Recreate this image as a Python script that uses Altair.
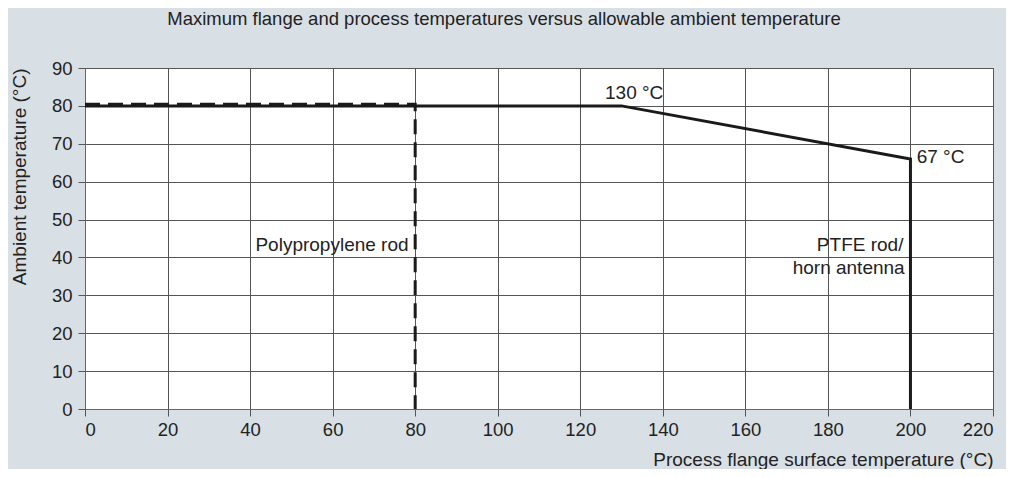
import altair as alt
import pandas as pd

ptfe_x = [0, 130, 200, 200]
ptfe_y = [80, 80, 66, 0]
pp_x = [0, 80, 80]
pp_y = [80.4, 80.4, 0]

label_text = ["130 °C", "67 °C"]
label_x = [126, 201.5]
label_y = [83.4, 66.4]

rlabel_text = ["Polypropylene rod", "PTFE rod/", "horn antenna"]
rlabel_x = [78.4, 198.3, 198.6]
rlabel_y = [43.3, 43.3, 37.2]

x_ticks = list(range(0, 221, 20))
y_ticks = list(range(0, 91, 10))

ptfe = pd.DataFrame({"x": ptfe_x, "y": ptfe_y, "o": range(len(ptfe_x))})
pp = pd.DataFrame({"x": pp_x, "y": pp_y, "o": range(len(pp_x))})
lab = pd.DataFrame({"x": label_x, "y": label_y, "t": label_text})
rlab = pd.DataFrame({"x": rlabel_x, "y": rlabel_y, "t": rlabel_text})

xs = alt.Scale(domain=[0, 220], nice=False, zero=False)
ys = alt.Scale(domain=[0, 90], nice=False, zero=False)

FS = 18.5
common = dict(titleFontSize=19, titleFontWeight="normal",
              labelFontSize=FS, labelColor="#222", titleColor="#222",
              labelFont="Liberation Sans", titleFont="Liberation Sans",
              grid=True, gridColor="#555", gridOpacity=1, tickColor="#555",
              domainColor="#666", tickSize=7)
xax = alt.Axis(values=x_ticks, title="Process flange surface temperature (°C)",
               titleAnchor="end", titlePadding=12, labelPadding=4, **common)
yax = alt.Axis(values=y_ticks, title="Ambient temperature (°C)",
               titleAnchor="end", titlePadding=22, labelPadding=6, **common)

X = alt.X("x:Q", scale=xs, axis=xax)
Y = alt.Y("y:Q", scale=ys, axis=yax)

l1 = alt.Chart(ptfe).mark_line(color="#1a1a1a", strokeWidth=3, strokeJoin="miter", strokeCap="butt").encode(
    x=X, y=Y, order="o:Q")
l2 = alt.Chart(pp).mark_line(color="#1a1a1a", strokeWidth=3, strokeDash=[15, 8], strokeCap="butt").encode(
    x=X, y=Y, order="o:Q")
t1 = alt.Chart(lab).mark_text(align="left", baseline="middle", fontSize=19, color="#222",
                              font="Liberation Sans").encode(x=X, y=Y, text="t:N")
t2 = alt.Chart(rlab).mark_text(align="right", baseline="middle", fontSize=19, color="#222",
                               font="Liberation Sans").encode(x=X, y=Y, text="t:N")

chart = alt.layer(l1, l2, t1, t2).properties(
    width=908, height=341,
    background="#d9e0e5",
    autosize=alt.AutoSizeParams(type="none"),
    padding={"left": 77, "top": 60, "right": 13, "bottom": 60},
    title=alt.TitleParams("Maximum flange and process temperatures versus allowable ambient temperature",
                          fontSize=18.5, fontWeight="normal", color="#222", anchor="middle",
                          frame="group", offset=31, dx=-35, font="Liberation Sans"),
).configure_view(fill="white", stroke="#555")

chart.save("out.html", embed_options={"renderer": "svg", "actions": False})
